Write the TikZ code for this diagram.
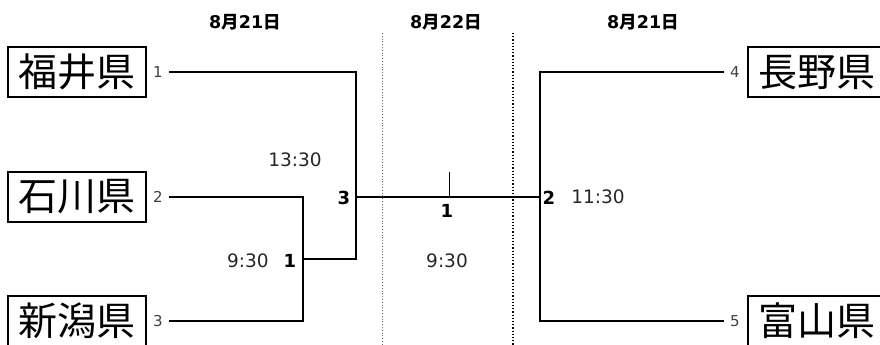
\documentclass[tikz,border=0pt]{standalone}
\usepackage{fontspec}
\setmainfont{DejaVu Sans}
\newfontfamily\jpfont{Noto Sans CJK JP}
\newcommand\mydate[2]{#1{\jpfont\bfseries 月}#2{\jpfont\bfseries 日}}
\begin{document}
\begin{tikzpicture}[x=1pt,y=-1pt,
  pref/.style={draw,line width=1.6pt,minimum width=138pt,minimum height=50pt,inner sep=0pt,font=\jpfont\fontsize{39}{39}\selectfont},
  seed/.style={font=\fontsize{15}{15}\selectfont,text=black!75},
  tm/.style={font=\fontsize{18.5}{18.5}\selectfont,text=black!85},
  gn/.style={font=\fontsize{18}{18}\selectfont\bfseries},
  dt/.style={font=\fontsize{17.5}{17.5}\selectfont\bfseries},
  br/.style={line width=1.5pt}]
\useasboundingbox (0,0) rectangle (880,345);
% prefecture boxes
\node[pref] (fukui) at (77,72) {福井県};
\node[pref] (ishikawa) at (77,197) {石川県};
\node[pref] (niigata) at (77,321) {新潟県};
\node[pref] (nagano) at (817,72) {長野県};
\node[pref] (toyama) at (817,321) {富山県};
% seeds
\node[seed] (s1) at (158,72) {1};
\node[seed] (s2) at (158,197) {2};
\node[seed] (s3) at (158,321) {3};
\node[seed] (s4) at (735,72) {4};
\node[seed] (s5) at (735,321) {5};
% dates
\node[dt] (d1) at (245,22) {\mydate{8}{21}};
\node[dt] (d2) at (446,22) {\mydate{8}{22}};
\node[dt] (d3) at (643,22) {\mydate{8}{21}};
% day separators
\coordinate (v1t) at (382,33); \coordinate (v1b) at (382,345);
\coordinate (v2t) at (513,33); \coordinate (v2b) at (513,345);
\draw[black!60,line width=0.8pt,dotted] (v1t) -- (v1b);
\draw[black,line width=1.2pt,dotted] (v2t) -- (v2b);
% bracket junctions
\coordinate (g1) at (303,259);
\coordinate (g3) at (356,197);
\coordinate (g2) at (540,197);
\coordinate (fin) at (449,197);
\coordinate (tick) at (449,172);
% left bracket
\draw[br] ([xshift=3pt]s2.east) -- (303,197) -- (303,321) -- ([xshift=3pt]s3.east);
\draw[br] (g1) -- (356,259) -- (356,72) -- ([xshift=3pt]s1.east);
% final line
\draw[br] (g3) -- (g2);
\draw[line width=0.8pt] (fin) -- (tick);
% right bracket
\draw[br] ([xshift=-3pt]s4.west) -- (540,72) -- (540,321) -- ([xshift=-3pt]s5.west);
% labels
\node[tm] (t1330) at (295,160) {13:30};
\node[gn] (n3) at (344,198) {3};
\node[tm] (t930a) at (248,261) {9:30};
\node[gn] (n1a) at (290,261) {1};
\node[gn] (n1f) at (447,211) {1};
\node[tm] (t930b) at (447,261) {9:30};
\node[gn] (n2) at (549,198) {2};
\node[tm] (t1130) at (598,197) {11:30};
\end{tikzpicture}
\end{document}
